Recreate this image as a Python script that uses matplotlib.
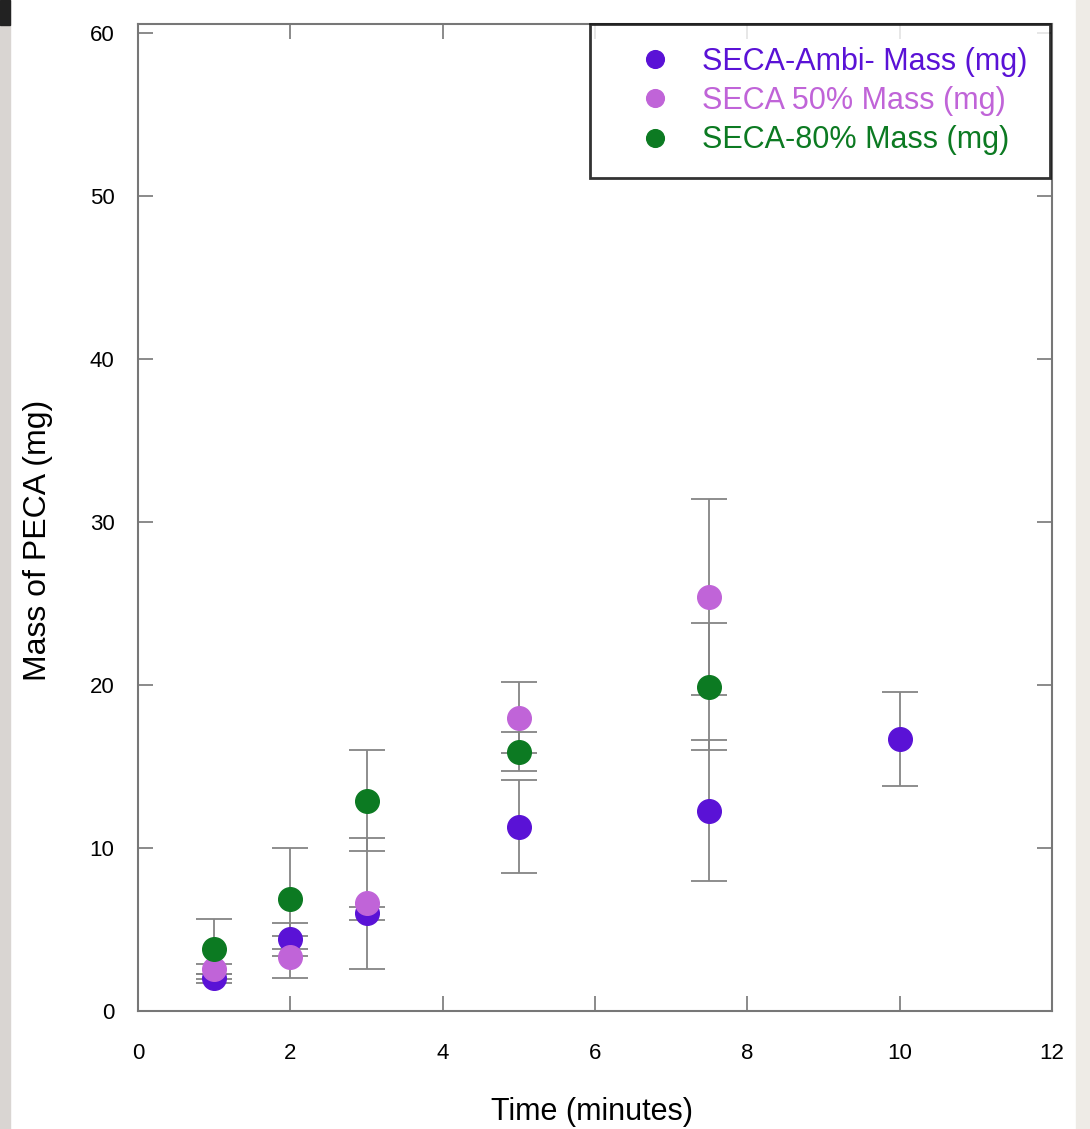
import matplotlib.pyplot as plt
from matplotlib.patches import Rectangle
import numpy as np

plt.rcParams['font.family'] = ['Liberation Sans', 'DejaVu Sans']

# time points (minutes)
t_ambi = np.array([1, 2, 3, 5, 7.5, 10])
t_50 = np.array([1, 2, 3, 5, 7.5])
t_80 = np.array([1, 2, 3, 5, 7.5])

# mass of PECA (mg) and error
m_ambi = np.array([2.0, 4.4, 6.0, 11.3, 12.3, 16.7])
e_ambi = np.array([0.3, 1.0, 0.4, 2.85, 4.3, 2.9])
m_50 = np.array([2.6, 3.3, 6.6, 18.0, 25.4])
e_50 = np.array([0.3, 1.3, 4.0, 2.2, 6.0])
m_80 = np.array([3.8, 6.9, 12.9, 15.9, 19.9])
e_80 = np.array([1.85, 3.1, 3.1, 1.2, 3.9])

labels = ["SECA-Ambi- Mass (mg)", "SECA 50% Mass (mg)", "SECA-80% Mass (mg)"]
colors = ["#5a12d6", "#c064d8", "#0c7a22"]

fig = plt.figure(figsize=(10.9, 11.29), dpi=100)

# slide edges around the pasted chart
fig.patches.append(Rectangle((0, 0), 10/1090, 1, transform=fig.transFigure,
                             color='#d9d5d2', zorder=0))
fig.patches.append(Rectangle((0, 1 - 25/1129), 10/1090, 25/1129, transform=fig.transFigure,
                             color='#222222', zorder=0))
fig.patches.append(Rectangle((1076/1090, 0), 14/1090, 1, transform=fig.transFigure,
                             color='#eeebe6', zorder=0))

ax = fig.add_axes([138/1090, 1 - 1011/1129, (1052-138)/1090, (1011-24)/1129])

series = [(t_ambi, m_ambi, e_ambi), (t_50, m_50, e_50), (t_80, m_80, e_80)]
handles = []
for (t, m, e), lab, c in zip(series, labels, colors):
    ax.errorbar(t, m, yerr=e, fmt='none', ecolor='#858585', elinewidth=1.3,
                capsize=13, capthick=1.3)
    h, = ax.plot(t, m, 'o', color=c, markersize=17, label=lab, zorder=3)
    handles.append(h)

ax.set_xlim(0, 12)
ax.set_ylim(0, 60.55)
ax.set_xticks(np.arange(0, 13, 2))
ax.set_yticks(np.arange(0, 61, 10))
ax.tick_params(direction='in', length=11, width=1.2, color='#777777',
               labelsize=16, top=True, right=True)
ax.tick_params(axis='x', pad=23)
ax.tick_params(axis='y', pad=17)
for s in ax.spines.values():
    s.set_color('#777777')
    s.set_linewidth(1.5)

ax.set_xlabel("Time (minutes)", fontsize=22)
ax.xaxis.set_label_coords(0.497, -0.102)
ax.xaxis.label.set_va('center')
ax.set_ylabel("Mass of PECA (mg)", fontsize=23)
ax.yaxis.set_label_coords(-0.109, 0.477)
ax.yaxis.label.set_va('center')

leg = ax.legend(handles=handles, loc='upper right', fontsize=22, markerscale=0.75,
                frameon=True, fancybox=False, edgecolor='black', borderpad=0.75,
                labelspacing=0.3, handlelength=2.75, handletextpad=0.15,
                borderaxespad=0.0, bbox_to_anchor=(0.998, 1.0))
leg.get_frame().set_linewidth(2)
for txt, c in zip(leg.get_texts(), colors):
    txt.set_color(c)

fig.savefig("out.png", dpi=100)
